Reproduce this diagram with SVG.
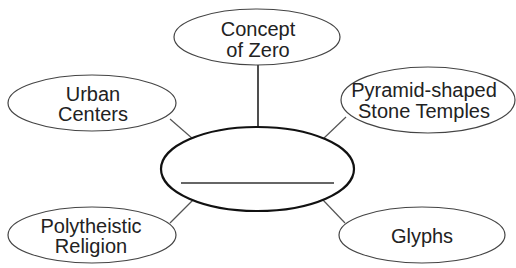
<svg xmlns="http://www.w3.org/2000/svg" width="516" height="268" viewBox="0 0 516 268">
<style>
.n{fill:#fff;stroke:#444;stroke-width:1.2}
.c{fill:#fff;stroke:#111;stroke-width:2.2}
.e{stroke:#555;stroke-width:1.2;fill:none}
text{font-family:"Liberation Sans",Arial,sans-serif;font-size:20px;fill:#222;text-anchor:middle}
</style>
<rect width="516" height="268" fill="#fff"/>
<g id="connectors">
<line class="e" x1="258" y1="65" x2="258" y2="128" style="stroke:#222;stroke-width:1.6"/>
<line class="e" x1="170" y1="119" x2="193" y2="139"/>
<line class="e" x1="346" y1="117" x2="323" y2="139"/>
<line class="e" x1="170" y1="223" x2="193" y2="200"/>
<line class="e" x1="345" y1="223" x2="323" y2="200"/>
</g>
<g id="center">
<ellipse class="c" cx="257.5" cy="169" rx="96.5" ry="42"/>
<line x1="181" y1="183" x2="334" y2="183" stroke="#333" stroke-width="1.6"/>
</g>
<g id="zero">
<ellipse class="n" cx="257" cy="37" rx="83" ry="28"/>
<text x="258" y="36">Concept</text>
<text x="258" y="57">of Zero</text>
</g>
<g id="urban">
<ellipse class="n" cx="92" cy="103" rx="84" ry="28"/>
<text x="93" y="101">Urban</text>
<text x="93" y="121">Centers</text>
</g>
<g id="pyramid">
<ellipse class="n" cx="428" cy="100" rx="87" ry="33"/>
<text x="424" y="97">Pyramid-shaped</text>
<text x="424" y="118">Stone Temples</text>
</g>
<g id="poly">
<ellipse class="n" cx="92" cy="235" rx="84" ry="28"/>
<text x="91" y="233">Polytheistic</text>
<text x="91" y="253">Religion</text>
</g>
<g id="glyphs">
<ellipse class="n" cx="422" cy="235" rx="83" ry="28"/>
<text x="422" y="243">Glyphs</text>
</g>
</svg>
